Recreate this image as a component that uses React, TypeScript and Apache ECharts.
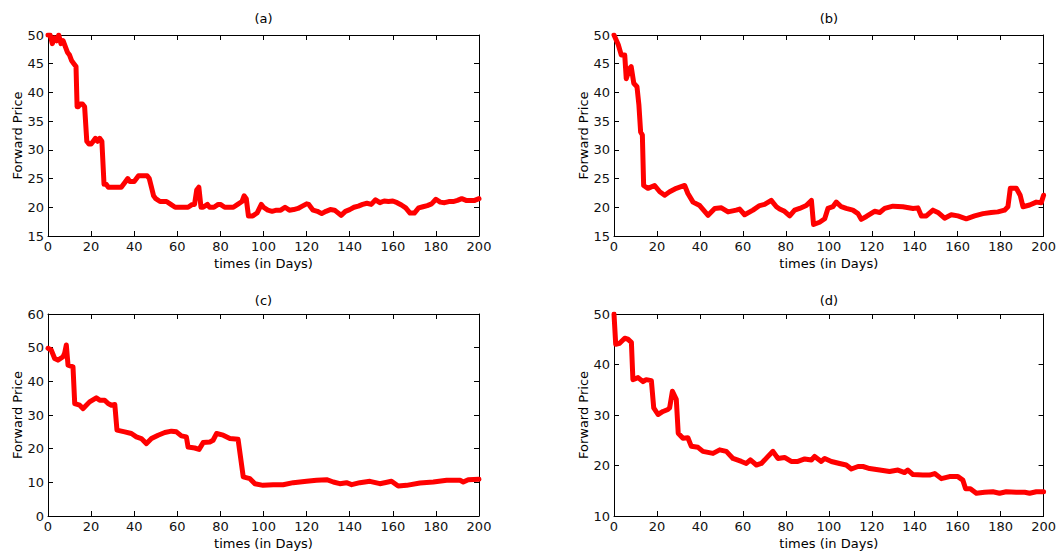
import React, { useEffect, useRef } from "react";
import * as echarts from "echarts";

// Panel (a)
const daysA = [0,1,2,3,4,5,6,7,8,9,10,11,12,13,13.5,14,15,16,17,18,19,20,21,22,23,24,25,26,27,28,30,32,34,36,37,38,40,42,43,44,45,46,47,48,49,50,52,54,55,57,59,61,63,65,67,68,69,70,71,72,74,75,77,79,80,82,84,86,88,90,91,92,93,95,97,99,100,102,104,106,108,110,112,114,116,118,120,121,123,125,127,129,131,133,134,136,138,140,142,144,146,148,150,152,154,156,158,160,162,164,166,168,170,172,174,176,178,180,182,184,186,188,190,192,194,196,198,200];
const priceA = [50,50,48.5,49.5,49,50,48.5,49,48,47,46.5,45.5,45,44.5,37.5,37.5,38,38,37.5,31.5,31,31,31.5,32,31.5,32,31.5,24,24,23.5,23.5,23.5,23.5,24.5,25,24.5,24.5,25.5,25.5,25.5,25.5,25.5,25,23.5,22,21.5,21,21,21,20.5,20,20,20,20,20.5,20.5,23,23.5,20,20,20.5,20,20,20.5,20.5,20,20,20,20.5,21,22,21.5,18.5,18.5,19,20.5,20,19.5,19.3,19.5,19.5,20,19.5,19.6,19.8,20.2,20.6,20.5,19.5,19.3,18.9,19.3,19.6,19.5,19.2,18.6,19.3,19.6,20,20.2,20.5,20.7,20.5,21.3,20.8,21.1,21,21.1,20.8,20.4,19.9,19,19,19.9,20.1,20.3,20.6,21.4,20.9,20.8,21,21,21.2,21.5,21.2,21.2,21.2,21.5];

// Panel (b)
const daysB = [0,2,3.4,5,5.7,7.3,8,9.2,10.7,11.6,12.4,13.2,13.8,15.8,18.9,21.3,23.6,25.9,29,30.6,32.9,34.4,36.8,39.9,43.8,46.9,50,53.1,56.9,58.5,60.8,64.7,67.8,70.1,73.2,75.6,77.1,79.4,81.8,84.1,86.4,89.5,91.9,92.9,95.7,98.1,99.6,101.9,103.5,105.8,108.1,111.2,113.6,115.1,117.5,121.3,123.7,126,129.9,134.5,139.2,141.5,143.1,145.4,148.5,150.8,153.9,157,160.1,164,167.9,171.8,175.6,178.7,181.8,183.4,184.5,187.3,189.1,190.4,193.5,196.6,198.9,200];
const priceB = [50,48.3,46.5,46.5,42.4,44.2,44.5,41.6,41,37.8,33.1,32.6,23.8,23.3,23.8,22.7,22.1,22.7,23.3,23.5,23.8,22.4,20.9,20.3,18.6,19.8,19.9,19.2,19.5,19.7,18.7,19.5,20.3,20.5,21.2,20.1,19.7,19.3,18.5,19.5,19.8,20.3,21.2,17,17.4,18,19.8,20.1,20.9,20.1,19.8,19.5,18.9,17.9,18.4,19.3,19.1,19.8,20.2,20.1,19.8,19.9,18.5,18.5,19.5,19.1,18.1,18.7,18.5,18,18.5,18.9,19.1,19.2,19.5,20.1,23.3,23.3,22.1,20.1,20.4,20.9,20.8,22.1];

// Panel (c)
const daysC = [0,1.5,3.1,4.6,7,7.7,8.5,9.3,11.6,12.4,14.7,16.3,19.3,22.4,24,26.3,27.9,29.4,31,32,35.6,38.7,41,43.3,45.7,48,51.1,54.2,57.3,59.6,61.9,64.2,65,68.1,70.1,72,75.1,76.6,78.2,81.3,84.4,88.2,90.6,93.7,96,99.8,104.5,109.1,113.8,120,124.6,129.3,132.4,135.4,138.5,140.9,144.7,149.4,154,159.4,162.5,166.4,172.6,178.8,185,191.2,192.7,195,200];
const priceC = [49.8,49.3,46.8,46.3,47.3,48.3,50.8,44.8,44.3,33.4,32.9,31.9,33.9,35.1,34.4,34.4,33.4,32.9,33.1,25.5,25,24.5,23.5,23,21.5,23,24,24.8,25.2,25,23.8,23.5,20.5,20.2,19.8,21.8,22,22.5,24.5,24,23,22.8,11.6,11.1,9.6,9.1,9.3,9.3,9.9,10.3,10.6,10.8,10.1,9.6,9.9,9.3,9.9,10.3,9.6,10.3,8.9,9.1,9.8,10.1,10.6,10.6,10.1,10.8,10.9];

// Panel (d)
const daysD = [0,0.8,2.6,5,6.5,8.1,8.8,11.2,13.5,15,17.4,18.5,20.5,22.8,25.1,25.9,27.2,29,29.9,32.1,34.4,36,39.1,41.4,46.1,49.2,52.3,55.4,59.3,61.6,63.5,66.3,68.6,71.7,74,76.3,79.4,82.5,85.6,88.8,91.9,93.4,96.5,98.1,101.2,105,108.1,110.5,113.6,115.9,119,123.7,128.3,132.2,135.3,136.8,139.2,143.8,146.9,149.3,152.4,156.2,160.1,162.4,163.7,165.9,168.7,172.5,176.4,179.5,182.6,187.3,191.2,193.5,196.6,200];
const priceD = [50,44,44.2,45.2,45,44.4,37,37.4,36.6,37,36.8,31.4,30.1,30.7,31.1,31.4,34.7,33.1,26.4,25.4,25.5,23.8,23.6,22.8,22.4,23.1,22.8,21.4,20.8,20.4,21.1,20.1,20.4,21.8,22.8,21.4,21.6,20.8,20.8,21.3,21.1,21.8,20.8,21.4,20.8,20.4,20.1,19.3,19.8,19.8,19.4,19.1,18.8,19.1,18.6,19.1,18.2,18.1,18.1,18.4,17.4,17.8,17.8,17.1,15.4,15.4,14.5,14.7,14.8,14.5,14.8,14.7,14.7,14.5,14.8,14.8];

const panelTitles = ["(a)", "(b)", "(c)", "(d)"];
const yMins = [15, 15, 0, 10];
const yMaxs = [50, 50, 60, 50];
const yIntervals = [5, 5, 10, 10];
const xLabel = "times (in Days)";
const yLabel = "Forward Price";

export default function App() {
  const ref = useRef<HTMLDivElement>(null);
  useEffect(() => {
    if (!ref.current) return;
    const chart = echarts.init(ref.current, null, { renderer: "svg" });
    const font = "DejaVu Sans, Verdana, sans-serif";
    const grids = [
      { left: 48, top: 35, width: 431, height: 201 },
      { left: 614, top: 35, width: 430, height: 201 },
      { left: 48, top: 314, width: 431, height: 202 },
      { left: 614, top: 314, width: 430, height: 202 },
    ];
    const titleOffsets = [17, 17, 14, 14];
    const dataSets = [
      daysA.map((d, i) => [d, priceA[i]]),
      daysB.map((d, i) => [d, priceB[i]]),
      daysC.map((d, i) => [d, priceC[i]]),
      daysD.map((d, i) => [d, priceD[i]]),
    ];
    const axisLine = { show: true, onZero: false, lineStyle: { color: "#000", width: 1 } };
    const tick = { show: true, inside: true, length: 5, lineStyle: { color: "#000", width: 1 } };
    const lbl = { color: "#111", fontSize: 13, fontFamily: font };
    const xAxes: any[] = [];
    const yAxes: any[] = [];
    const series: any[] = [];
    const graphics: any[] = [];
    grids.forEach((g, i) => {
      xAxes.push({
        type: "value", gridIndex: i, min: 0, max: 200, interval: 20, position: "bottom",
        axisLine, axisTick: tick, splitLine: { show: false },
        axisLabel: { ...lbl, margin: 4 },
        name: xLabel, nameLocation: "middle", nameGap: 21,
        nameTextStyle: { color: "#000", fontSize: 13, fontFamily: font },
      });
      xAxes.push({
        type: "value", gridIndex: i, min: 0, max: 200, interval: 20, position: "top",
        axisLine, axisTick: tick, splitLine: { show: false }, axisLabel: { show: false },
      });
      yAxes.push({
        type: "value", gridIndex: i, min: yMins[i], max: yMaxs[i], interval: yIntervals[i], position: "left",
        axisLine, axisTick: tick, splitLine: { show: false },
        axisLabel: { ...lbl, margin: 4 },
        name: yLabel, nameLocation: "middle", nameGap: 24, nameRotate: 90,
        nameTextStyle: { color: "#000", fontSize: 13, fontFamily: font },
      });
      yAxes.push({
        type: "value", gridIndex: i, min: yMins[i], max: yMaxs[i], interval: yIntervals[i], position: "right",
        axisLine, axisTick: tick, splitLine: { show: false }, axisLabel: { show: false },
      });
      series.push({
        type: "line", xAxisIndex: i * 2, yAxisIndex: i * 2, data: dataSets[i],
        showSymbol: false, symbol: "none", clip: true,
        lineStyle: { color: "#ff0000", width: 5, join: "round", cap: "round" },
      });
      graphics.push({
        type: "text", x: g.left + g.width / 2, y: g.top - titleOffsets[i],
        style: { text: panelTitles[i], textAlign: "center", textVerticalAlign: "middle", fill: "#000", font: `13px ${font}` },
      });
    });
    chart.setOption({
      animation: false,
      backgroundColor: "#fff",
      grid: grids.map((g) => ({ ...g, containLabel: false })),
      xAxis: xAxes,
      yAxis: yAxes,
      series,
      graphic: graphics,
    });
    return () => chart.dispose();
  }, []);
  return (
    <div
      ref={ref}
      style={{ position: "fixed", left: 0, top: 0, width: 1059, height: 553, background: "#fff" }}
    />
  );
}
